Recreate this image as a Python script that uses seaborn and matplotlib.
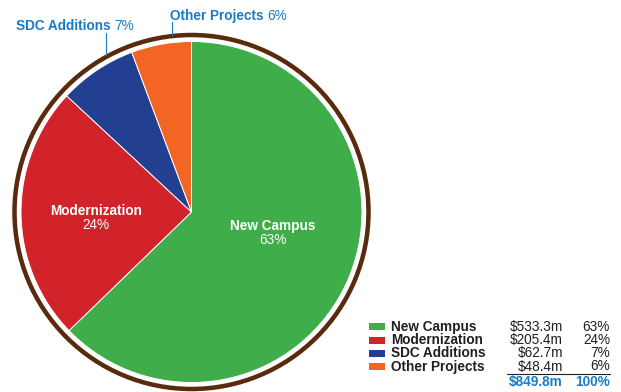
import matplotlib
matplotlib.use("Agg")
import matplotlib.pyplot as plt
from matplotlib.patches import Circle, Rectangle
import seaborn as sns

# Capital program allocation ($ millions)
categories = ["New Campus", "Modernization", "SDC Additions", "Other Projects"]
amounts = [533.3, 205.4, 62.7, 48.4]
colors = ["#3fae4a", "#d2232a", "#233f92", "#f26522"]

sns.set_theme(style="white")
plt.rcParams["font.family"] = ["Liberation Sans", "DejaVu Sans"]

W, H = 621, 392
BLUE = "#1b7bc4"
DARK = "#231f20"
RING = "#5a2a0c"


def Y(y):
    """Convert a top-down pixel row to the axes' bottom-up coordinate."""
    return H - y


fig = plt.figure(figsize=(W / 100, H / 100), dpi=100)
ax = fig.add_axes([0, 0, 1, 1])

total = sum(amounts)
pcts = [round(a / total * 100) for a in amounts]

cx, cy, r = 191.5, Y(212), 170.5
ax.pie(amounts, colors=colors, startangle=90, counterclock=False,
       center=(cx, cy), radius=r,
       wedgeprops=dict(edgecolor="white", linewidth=0.7))

# brown outer ring
ax.add_patch(Circle((cx, cy), 177, fill=False, edgecolor=RING,
                    linewidth=4.5 * 72 / 100))

ax.set_xlim(0, W)
ax.set_ylim(0, H)
ax.set_aspect("equal")
ax.axis("off")

fs = 9.8


def txt(x, y, s, ha="left", color=DARK, bold=False, size=fs):
    return ax.text(x, Y(y), s, ha=ha, va="baseline", color=color,
                   fontsize=size, fontweight="bold" if bold else "normal")


# labels inside the two large wedges
txt(273, 229.5, categories[0], ha="center", color="white", bold=True)
txt(273, 243.5, f"{pcts[0]}%", ha="center", color="white")
txt(96, 215, categories[1], ha="center", color="white", bold=True)
txt(96, 228.5, f"{pcts[1]}%", ha="center", color="white")


# call-out labels for the two small wedges
def callout(x, y, name, pct, lx, ly0, ly1):
    t = txt(x, y, name + " ", color=BLUE, bold=True)
    fig.canvas.draw()
    bb = t.get_window_extent().transformed(ax.transData.inverted())
    txt(bb.x1, y, f"{pct}%", color=BLUE)
    ax.plot([lx, lx], [Y(ly0), Y(ly1)], color=BLUE, linewidth=0.8)


callout(16, 29.5, categories[2], pcts[2], 105.5, 33, 55)
callout(170, 19.5, categories[3], pcts[3], 172, 22, 35)

# summary table
rows_y = [330.7, 344, 357.3, 370.5]
for yy, name, amt, pct, col in zip(rows_y, categories, amounts, pcts, colors):
    ax.add_patch(Rectangle((369, Y(yy) + 0.5), 16, 7, facecolor=col,
                           edgecolor="none"))
    txt(391, yy, name, bold=True)
    txt(563, yy, f"${amt:.1f}m", ha="right")
    txt(610, yy, f"{pct}%", ha="right")

ax.plot([507, 610], [Y(373.5), Y(373.5)], color=DARK, linewidth=0.8)
txt(563, 386, f"${total:.1f}m", ha="right", color=BLUE, bold=True)
txt(610, 386, f"{sum(pcts)}%", ha="right", color=BLUE, bold=True)

fig.savefig("out.png", dpi=100)
